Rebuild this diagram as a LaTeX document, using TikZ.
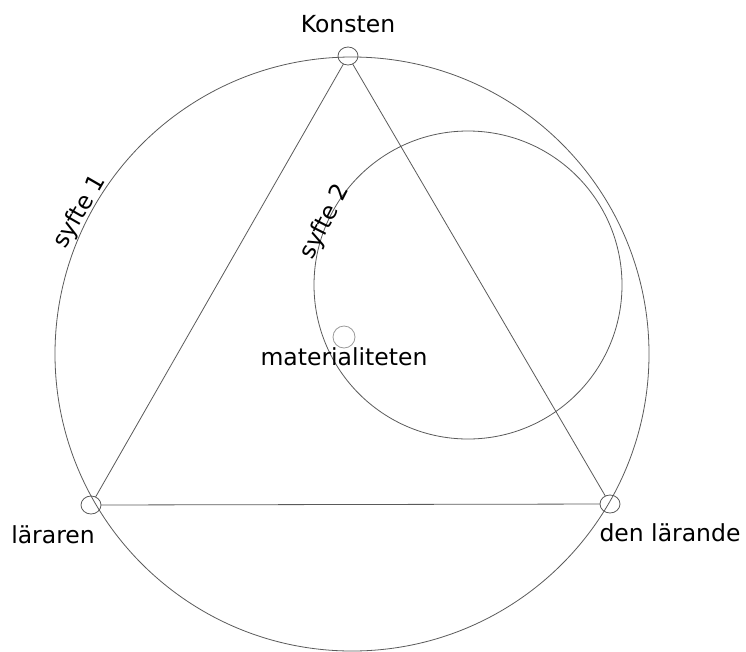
\documentclass[tikz,border=0pt]{standalone}
\usepackage{fontspec}
\setmainfont{DejaVu Sans}
\usetikzlibrary{shapes.geometric,positioning}
\definecolor{linegray}{HTML}{5A5A5A}
\definecolor{ringgray}{HTML}{9A9A9A}

\begin{document}
\begin{tikzpicture}[
    x=1pt, y=-1pt,
    every node/.style={font=\fontsize{23.5}{28}\selectfont, inner sep=0pt, outer sep=0pt},
    corner/.style={ellipse, draw=linegray, line width=0.8pt, minimum width=20pt, minimum height=18pt},
    ring/.style={draw=linegray, line width=0.8pt},
    side/.style={draw=linegray, line width=0.8pt}
]
\useasboundingbox (0,0) rectangle (746,651);
\draw[ring] (352,354) circle[radius=297pt];
\draw[ring] (468,285) circle[radius=154pt];

\node[corner] (konst) at (348,56) {};
\node[corner] (lararen) at (91,505) {};
\node[corner] (elev) at (610,504) {};
\node[circle, draw=ringgray, line width=0.8pt, minimum size=22pt] (mat) at (344,337) {};

\node (konstlbl) [above=14pt of konst] {Konsten};
\node (lararenlbl) [below=12pt of lararen, xshift=-38pt] {läraren};
\node (elevlbl) [below=11pt of elev, xshift=60pt] {den lärande};
\node (matlbl) [below=0pt of mat] {materialiteten};
\node (syfte1) [rotate=60] at (80,212) {syfte 1};
\node (syfte2) [rotate=63] at (325,222) {syfte 2};

\draw[side] (konst) -- (lararen);
\draw[side] (konst) -- (elev);
\draw[side] (lararen) -- (elev);
\end{tikzpicture}
\end{document}
